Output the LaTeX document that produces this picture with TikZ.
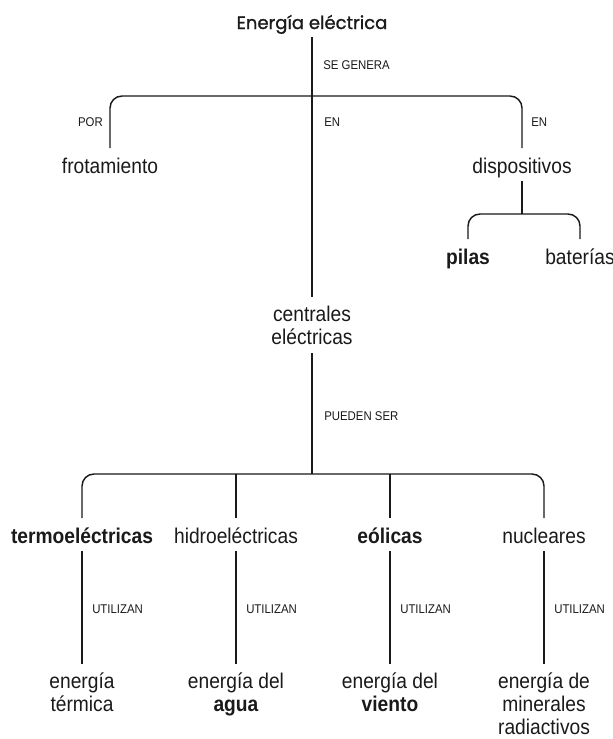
\documentclass[tikz,border=0pt]{standalone}
\usepackage{fontspec}
\setmainfont{Liberation Sans}[FakeStretch=0.9]
\newfontfamily\titlefont{Poppins}[FakeBold=1.2]
\definecolor{ink}{HTML}{1A1A1A}
\begin{document}
\begin{tikzpicture}[x=0.75pt,y=-0.75pt,
  txt/.style={text=ink, inner xsep=2pt, inner ysep=6pt},
  box/.style={txt, font=\fontsize{16}{17.25}\selectfont, text height=12.5pt, text depth=0pt, anchor=base},
  multi/.style={txt, font=\fontsize{16}{17.25}\selectfont, align=center, anchor=north},
  lab/.style={text=ink, font=\fontsize{9.5}{11}\selectfont, inner sep=0pt, anchor=west},
  link/.style={draw=ink, line width=1.1pt},
  trunk/.style={draw=ink, line width=1.4pt},
  brace/.style={link, rounded corners=9pt}]
\fill[white] (0,0) rectangle (613,739);
\useasboundingbox (0,0) rectangle (613,739);
% nodes
\node[text=ink, font=\titlefont\fontsize{13.5}{15}\selectfont, anchor=base, inner ysep=6pt, text depth=0pt] (title) at (312,29) {Energía eléctrica};
\coordinate (j1) at (312,96);
\node[box] (frot) at (110,173) {frotamiento};
\node[box] (disp) at (522,173) {dispositivos};
\coordinate (j2) at (522,214);
\node[box] (pilas) at (468,264) {\bfseries pilas};
\node[box] (bat) at (580,264) {baterías};
\node[multi] (cent) at (312,297) {\rule{0pt}{12.5pt}centrales\\eléctricas};
\coordinate (j3) at (312,474);
\node[box] (termo) at (82,543) {\bfseries termoeléctricas};
\node[box] (hidro) at (236,543) {hidroeléctricas};
\node[box] (eol) at (390,543) {\bfseries eólicas};
\node[box] (nucl) at (544,543) {nucleares};
\node[multi] (eterm) at (82,664) {\rule{0pt}{12.5pt}energía\\térmica};
\node[multi] (eagua) at (236,664) {\rule{0pt}{12.5pt}energía del\\\textbf{agua}};
\node[multi] (evien) at (390,664) {\rule{0pt}{12.5pt}energía del\\\textbf{viento}};
\node[multi] (emin) at (544,664) {\rule{0pt}{12.5pt}energía de\\minerales\\radiactivos};
% connectors
\draw[trunk] (title.south) -- (cent.north);
\draw[brace] (frot.north) -- (frot.north |- j1) -- (disp.north |- j1) -- (disp.north);
\draw[link] (disp.south) -- (j2);
\draw[brace] (pilas.north) -- (pilas.north |- j2) -- (bat.north |- j2) -- (bat.north);
\draw[link] (cent.south) -- (j3);
\draw[brace] (termo.north) -- (termo.north |- j3) -- (nucl.north |- j3) -- (nucl.north);
\draw[link] (hidro.north |- j3) -- (hidro.north);
\draw[link] (eol.north |- j3) -- (eol.north);
\draw[link] (termo.south) -- (eterm.north);
\draw[link] (hidro.south) -- (eagua.north);
\draw[link] (eol.south) -- (evien.north);
\draw[link] (nucl.south) -- (emin.north);
% labels
\node[lab] (lse) at (323,65) {SE GENERA};
\node[lab, anchor=east] (lpor) at (103,122) {POR};
\node[lab] (len1) at (324,122) {EN};
\node[lab] (len2) at (531,122) {EN};
\node[lab] (lps) at (324,416) {PUEDEN SER};
\node[lab] (lu1) at (92,609) {UTILIZAN};
\node[lab] (lu2) at (246,609) {UTILIZAN};
\node[lab] (lu3) at (400,609) {UTILIZAN};
\node[lab] (lu4) at (554,609) {UTILIZAN};
\end{tikzpicture}
\end{document}
